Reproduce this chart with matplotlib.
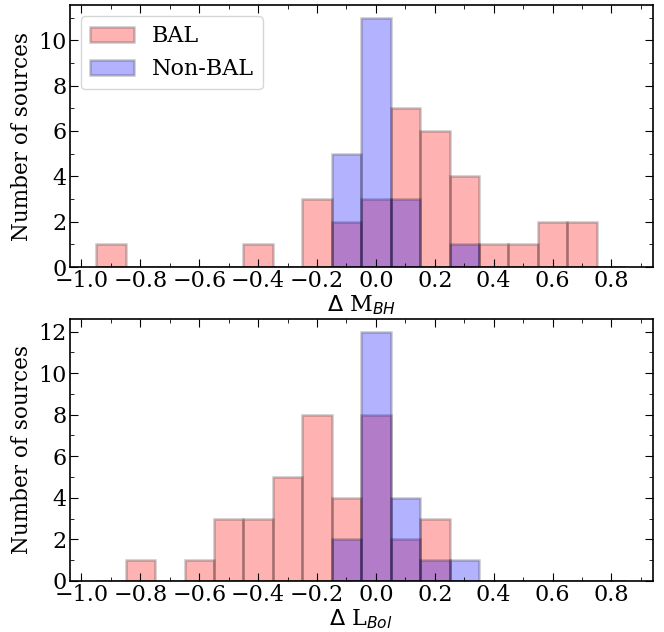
import numpy as np
import matplotlib
matplotlib.use('Agg')
import matplotlib.pyplot as plt
from matplotlib.ticker import MultipleLocator

## bin edges shared by both panels (width 0.1)
bin_edges = np.round(np.arange(-0.95, 0.86, 0.1), 2)
bin_centers = np.round(0.5 * (bin_edges[:-1] + bin_edges[1:]), 2)

## counts per bin, delta M_BH
mbh_bal = [1, 0, 0, 0, 0, 1, 0, 3, 2, 3, 7, 6, 4, 1, 1, 2, 2, 0]
mbh_nonbal = [0, 0, 0, 0, 0, 0, 0, 0, 5, 11, 3, 0, 1, 0, 0, 0, 0, 0]

## counts per bin, delta L_Bol
lbol_bal = [0, 1, 0, 1, 3, 3, 5, 8, 4, 8, 2, 3, 0, 0, 0, 0, 0, 0]
lbol_nonbal = [0, 0, 0, 0, 0, 0, 0, 0, 2, 12, 4, 1, 1, 0, 0, 0, 0, 0]

plt.rcParams['font.family'] = 'DejaVu Serif'
plt.rcParams['font.size'] = 16

fig = plt.figure(figsize=(6.64, 6.32), dpi=100)
ax1 = fig.add_axes([0.105, 0.5775, 0.878, 0.4145])
ax2 = fig.add_axes([0.105, 0.081, 0.878, 0.414])

edge = (0, 0, 0, 0.22)

def draw_panel(ax, bal, nonbal, xlabel, legend=False):
    ax.hist(bin_centers, bins=bin_edges, weights=bal, color=(1, 0, 0, 0.3),
            edgecolor=edge, linewidth=1.8, label='BAL')
    ax.hist(bin_centers, bins=bin_edges, weights=nonbal, color=(0, 0, 1, 0.3),
            edgecolor=edge, linewidth=1.8, label='Non-BAL')
    ax.set_xlabel(xlabel, labelpad=1)
    ax.set_ylabel('Number of sources', fontsize=15.5)
    ax.xaxis.set_major_locator(MultipleLocator(0.2))
    ax.xaxis.set_minor_locator(MultipleLocator(0.1))
    ax.yaxis.set_major_locator(MultipleLocator(2))
    ax.yaxis.set_minor_locator(MultipleLocator(1))
    ax.tick_params(which='both', direction='in', top=True, right=True)
    ax.tick_params(which='major', length=6, pad=2)
    ax.tick_params(which='minor', length=3)
    for s in ax.spines.values():
        s.set_linewidth(1.2)
    if legend:
        ax.legend(loc='upper left', fontsize=16)

draw_panel(ax1, mbh_bal, mbh_nonbal, r'$\Delta$ M$_{BH}$', legend=True)
draw_panel(ax2, lbol_bal, lbol_nonbal, r'$\Delta$ L$_{Bol}$')

plt.savefig('out.png', dpi=100)
